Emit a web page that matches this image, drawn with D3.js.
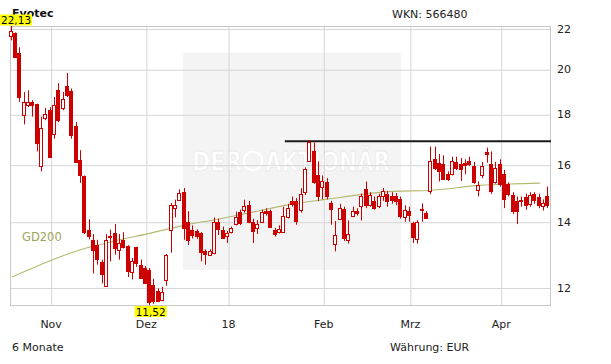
<!DOCTYPE html>
<html><head><meta charset="utf-8">
<script src="https://cdn.jsdelivr.net/npm/d3@7"></script>
<style>
body{margin:0;background:#fff;}
svg{display:block;font-family:"DejaVu Sans",Verdana,sans-serif;}
</style></head><body>
<svg id="c" width="611" height="364"></svg>
<script>
const dates = [
"2017-10-19","2017-10-20","2017-10-23","2017-10-24","2017-10-25","2017-10-26","2017-10-27","2017-10-30","2017-10-31",
"2017-11-01","2017-11-02","2017-11-03","2017-11-06","2017-11-07","2017-11-08","2017-11-09","2017-11-10","2017-11-13","2017-11-14","2017-11-15","2017-11-16","2017-11-17","2017-11-20","2017-11-21","2017-11-22","2017-11-23","2017-11-24","2017-11-27","2017-11-28","2017-11-29","2017-11-30",
"2017-12-01","2017-12-04","2017-12-05","2017-12-06","2017-12-07","2017-12-08","2017-12-11","2017-12-12","2017-12-13","2017-12-14","2017-12-15","2017-12-18","2017-12-19","2017-12-20","2017-12-21","2017-12-22","2017-12-27","2017-12-28","2017-12-29",
"2018-01-02","2018-01-03","2018-01-04","2018-01-05","2018-01-08","2018-01-09","2018-01-10","2018-01-11","2018-01-12","2018-01-15","2018-01-16","2018-01-17","2018-01-18","2018-01-19","2018-01-22","2018-01-23","2018-01-24","2018-01-25","2018-01-26","2018-01-29","2018-01-30","2018-01-31",
"2018-02-01","2018-02-02","2018-02-05","2018-02-06","2018-02-07","2018-02-08","2018-02-09","2018-02-12","2018-02-13","2018-02-14","2018-02-15","2018-02-16","2018-02-19","2018-02-20","2018-02-21","2018-02-22","2018-02-23","2018-02-26","2018-02-27","2018-02-28",
"2018-03-01","2018-03-02","2018-03-05","2018-03-06","2018-03-07","2018-03-08","2018-03-09","2018-03-12","2018-03-13","2018-03-14","2018-03-15","2018-03-16","2018-03-19","2018-03-20","2018-03-21","2018-03-22","2018-03-23","2018-03-26","2018-03-27","2018-03-28","2018-03-29",
"2018-04-03","2018-04-04","2018-04-05","2018-04-06","2018-04-09","2018-04-10","2018-04-11","2018-04-12","2018-04-13","2018-04-16","2018-04-17","2018-04-18"];

const open = [21.6,21.76,20.77,17.98,18.4,18.53,18.43,15.96,17.85,18.2,17.17,19.07,18.27,19.23,19.01,17.5,16.17,15.58,13.74,13.42,13.26,12.73,12.05,13.55,13.64,
13.11,13.42,13.22,12.44,13.19,12.66,12.56,12.51,12.07,11.9,11.66,12.2,13.74,14.45,14.74,15.0,13.98,13.74,13.7,13.63,13.06,12.96,13.02,14.0,13.74,
13.54,13.66,13.92,14.33,14.38,14.57,14.0,13.8,14.0,14.37,14.35,13.74,13.66,13.68,14.17,14.7,14.68,14.4,14.99,16.15,16.53,15.62,15.18,15.38,14.63,
13.3,14.1,14.43,13.42,14.2,14.37,14.54,15.1,14.57,14.7,14.54,14.85,14.93,14.87,14.87,14.77,14.14,14.35,13.95,13.44,14.42,14.28,15.04,16.22,16.07,
16.03,15.64,15.64,16.1,16.03,16.07,16.15,15.96,15.08,15.62,16.48,16.03,15.36,16.03,15.67,15.3,14.9,14.68,14.74,14.82,14.6,14.93,14.82,14.51,14.88];
const high = [22.13,21.8,21.06,18.96,19.04,18.6,18.45,17.9,18.27,18.3,18.74,19.36,18.96,19.83,19.12,17.67,16.55,15.6,14.08,13.6,13.42,12.81,13.6,13.74,13.92,
13.6,13.66,13.25,12.86,13.2,12.81,12.62,12.56,12.25,11.98,12.02,12.98,14.63,14.74,15.1,15.15,14.35,13.88,13.75,13.66,13.12,13.12,14.14,14.1,13.84,
13.7,13.84,14.33,14.4,14.74,14.7,14.1,14.05,14.4,14.45,14.4,13.8,13.88,14.5,14.6,14.85,14.8,15.14,15.9,16.95,16.85,16.12,15.6,15.5,14.7,
14.02,14.6,14.5,14.04,14.5,14.45,14.95,15.38,15.0,14.85,14.95,15.15,15.05,15.0,14.97,14.85,14.55,14.5,14.0,14.05,14.61,14.35,16.69,16.69,16.4,
16.35,15.75,16.3,16.3,16.25,16.2,16.3,16.1,15.38,16.1,16.65,16.5,16.1,16.2,15.8,15.35,15.0,14.85,14.85,14.95,15.0,15.0,14.95,14.75,15.2];
const low = [21.4,20.55,18.53,17.58,18.3,17.9,16.5,15.75,17.75,16.25,17.0,17.67,18.17,18.74,17.0,16.07,15.33,13.6,13.43,12.4,12.66,12.12,12.03,12.76,12.96,
12.81,13.15,12.3,12.23,12.6,12.25,12.1,11.52,11.55,11.6,11.62,12.05,13.02,14.14,14.7,13.42,13.26,13.46,13.45,12.76,12.66,12.94,12.97,13.57,13.45,
13.32,13.62,13.88,13.89,14.3,13.95,13.32,13.6,13.95,14.2,13.8,13.52,13.62,13.65,14.1,14.5,13.9,14.3,14.9,16.1,15.3,14.7,14.75,14.75,13.9,
13.06,14.05,13.38,13.3,14.15,14.2,14.04,14.45,14.5,14.4,14.45,14.7,14.5,14.6,14.55,14.1,14.0,14.0,13.32,13.3,14.0,14.1,14.93,15.8,15.38,
15.45,15.4,15.6,15.8,15.4,15.64,15.95,15.3,14.85,15.5,16.07,14.94,15.3,15.2,14.45,14.85,14.25,13.92,14.5,14.4,14.5,14.6,14.45,14.37,14.45];
const close = [21.85,20.6,18.74,18.53,18.53,18.4,16.82,17.45,18.03,16.3,18.41,17.78,18.67,18.83,17.14,16.1,15.6,13.66,13.54,13.11,12.83,12.4,13.42,13.5,13.16,
13.32,13.19,12.47,12.77,12.7,12.27,12.12,11.6,11.62,11.63,11.88,12.96,14.57,14.57,14.97,13.78,13.42,13.57,13.54,13.04,12.98,13.07,14.0,13.75,13.49,
13.63,13.79,14.14,13.95,14.54,14.0,13.71,13.92,14.33,14.3,13.83,13.6,13.77,14.2,14.47,14.6,14.01,14.94,15.83,16.88,15.38,14.85,15.41,14.85,14.43,
13.57,14.47,13.46,13.6,14.35,14.3,14.85,14.57,14.9,14.47,14.85,15.05,14.68,14.74,14.7,14.2,14.4,14.23,13.51,14.0,14.38,14.13,16.12,15.87,15.76,
15.48,15.48,16.12,15.87,15.84,15.98,16.03,15.38,15.26,15.96,16.4,15.04,15.87,15.3,14.77,14.93,14.37,14.37,14.68,14.57,14.9,14.74,14.55,14.63,14.57];

const gdDates = ["2017-10-19","2017-11-10","2017-11-21","2017-12-04","2017-12-15","2017-12-22","2018-01-09","2018-01-22","2018-02-01","2018-02-22","2018-03-08","2018-03-23","2018-04-16"];
const gdValues = [12.3,13.12,13.36,13.63,13.92,14.04,14.3,14.57,14.74,15.02,15.07,15.24,15.32];

const monthTicks = ["2017-11-01","2017-12-01","2018-01-02","2018-02-01","2018-03-01","2018-04-03"];
const monthLabels = ["Nov","Dez","18","Feb","Mrz","Apr"];
const priceTicks = [12,14,16,18,20,22];
const resistanceLevel = 16.9;
const resistanceStart = "2018-01-19";

const title = "Evotec", wkn = "WKN: 566480", period = "6 Monate", currency = "Währung: EUR";

const svg = d3.select("#c");
const L = 10, R = 551, T = 26, B = 305;
const red = "#cc0000";

const data = dates.map((d,i)=>({d, o:open[i], h:high[i], l:low[i], c:close[i]}));

const x = d3.scaleBand().domain(dates).range([L, R]);
const cx = d => x(d) + x.bandwidth()/2;
const y = d3.scaleLog().domain([d3.min(low), d3.max(high)]).range([B, T]);

// watermark box + logo text
svg.append("rect").attr("x",183).attr("y",53).attr("width",218).attr("height",217).attr("fill","#f4f4f4");
const wm = svg.append("g").attr("fill","#ffffff").attr("stroke","#e9e9e9").attr("stroke-width",0.8)
  .attr("font-size",27).attr("font-weight","bold");
wm.append("text").attr("x",192).attr("y",171).attr("textLength",50).attr("lengthAdjust","spacingAndGlyphs").text("DER");
wm.append("circle").attr("cx",253).attr("cy",161).attr("r",9.5).attr("stroke-width",3).attr("fill","none").attr("stroke","#ffffff");
wm.append("circle").attr("cx",253).attr("cy",161).attr("r",11).attr("fill","none").attr("stroke","#ebebeb").attr("stroke-width",0.6);
wm.append("text").attr("x",265).attr("y",171).attr("textLength",125).attr("lengthAdjust","spacingAndGlyphs").text("AKTIONÄR");

// grid via axes
const gx = svg.append("g").attr("transform",`translate(0,${B})`)
  .call(d3.axisBottom(x).tickValues(monthTicks).tickFormat((d,i)=>monthLabels[i]).tickSize(-(B-T)).tickPadding(15));
gx.select(".domain").remove();
gx.selectAll("line").attr("stroke","#d6d6d6").attr("transform","translate(0.5,0)");
gx.selectAll("text").attr("font-size",11).attr("fill","#222").attr("font-family","DejaVu Sans");

const gy = svg.append("g").attr("transform",`translate(${R},0)`)
  .call(d3.axisRight(y).tickValues(priceTicks).tickFormat(d3.format("d")).tickSize(-(R-L)).tickPadding(6));
gy.select(".domain").remove();
gy.selectAll("line").attr("stroke","#d6d6d6").attr("transform","translate(0,0.5)");
gy.selectAll("text").attr("font-size",11).attr("fill","#222").attr("font-family","DejaVu Sans");

// frame
svg.append("rect").attr("x",L+0.5).attr("y",T+0.5).attr("width",R-L-1).attr("height",B-T).attr("fill","none").attr("stroke","#c8c8c8");

// GD200
const gd = gdDates.map((d,i)=>[cx(d), y(gdValues[i])]);
svg.append("path").attr("d", d3.line().curve(d3.curveMonotoneX)(gd)).attr("fill","none").attr("stroke","#b3b96e").attr("stroke-width",1.1);
svg.append("text").attr("x",22).attr("y",241).attr("font-size",11.5).attr("fill","#a0a45a").text("GD200");

// resistance line
svg.append("line").attr("x1",cx(resistanceStart)).attr("x2",R).attr("y1",y(resistanceLevel)).attr("y2",y(resistanceLevel))
  .attr("stroke","#1a1a1a").attr("stroke-width",2);

// candles
const g = svg.append("g");
data.forEach(p=>{
  const c = Math.floor(cx(p.d));
  g.append("line").attr("x1",c-0.5).attr("x2",c-0.5).attr("y1",y(p.h)).attr("y2",y(p.l)).attr("stroke",red).attr("stroke-width",1);
  const top = Math.round(y(Math.max(p.o,p.c))), bot = Math.round(y(Math.min(p.o,p.c)));
  g.append("rect").attr("x",c-2.5).attr("y",top+0.5).attr("width",3).attr("height",Math.max(bot-top,1))
    .attr("fill", p.c >= p.o ? "#ffffff" : red).attr("stroke",red).attr("stroke-width",1);
});

// title texts
svg.append("text").attr("x",12).attr("y",17).attr("font-size",11).attr("font-weight","bold").attr("fill","#111").text(title);
svg.append("text").attr("x",392).attr("y",18).attr("font-size",11).attr("fill","#222").text(wkn);
svg.append("text").attr("x",12).attr("y",351).attr("font-size",11).attr("fill","#222").text(period);
svg.append("text").attr("x",390).attr("y",351).attr("font-size",11).attr("fill","#222").text(currency);

// high / low labels
const fmt = v => d3.format(".2f")(v).replace(".",",");
function label(v, dateStr, yTop){
  const t = svg.append("text").attr("font-size",10.5).attr("fill","#000").attr("text-anchor","middle").text(fmt(v));
  const w = t.node().getComputedTextLength() + 2;
  let bx = cx(dateStr) - w/2; if (bx < 0) bx = 0;
  svg.insert("rect", () => t.node()).attr("x",bx).attr("y",yTop).attr("width",w).attr("height",11).attr("fill","#ffff00");
  t.attr("x", bx + w/2).attr("y", yTop + 9.5);
}
const iMax = d3.maxIndex(high), iMin = d3.minIndex(low);
label(high[iMax], dates[iMax], y(high[iMax]) - 11.5);
label(low[iMin], dates[iMin], B + 1);
</script>
</body></html>
